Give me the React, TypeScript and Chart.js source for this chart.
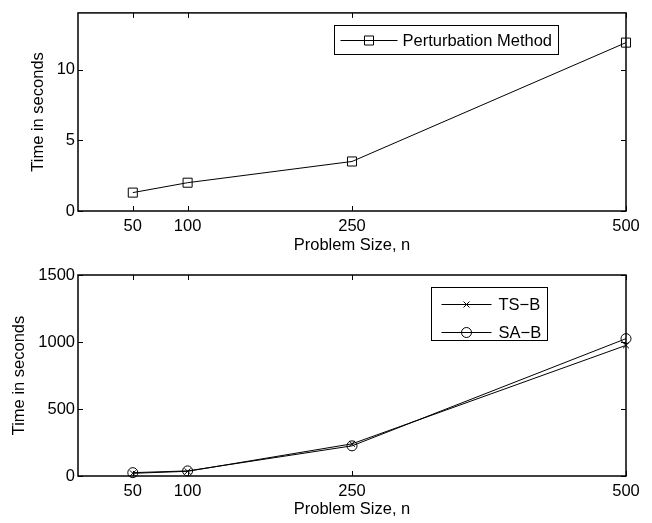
import React, { useEffect, useRef } from 'react';
import { Chart, registerables } from 'chart.js';
Chart.register(...registerables);

// ---- data ----
const problemSizes = [50, 100, 250, 500];
const perturbationTimes = [1.3, 2.0, 3.5, 11.9];
const tsbTimes = [20, 35, 240, 975];
const sabTimes = [25, 38, 225, 1025];
const xTickValues = [50, 100, 250, 500];
const topYTicks = [0, 5, 10];
const bottomYTicks = [0, 500, 1000, 1500];
const topYMax = 14;
const bottomYMax = 1500;
const xMax = 500;
const xLabel = 'Problem Size, n';
const yLabel = 'Time in seconds';
const topSeriesLabel = 'Perturbation Method';
const tsbLabel = 'TS\u2212B';
const sabLabel = 'SA\u2212B';

const FONT = '"Liberation Sans", Arial, Helvetica, sans-serif';
const FS = 16.5;

function drawMarker(ctx: CanvasRenderingContext2D, style: string, x: number, y: number, r: number) {
  ctx.beginPath();
  if (style === 'rect') {
    const s = Math.SQRT1_2 * r;
    ctx.rect(x - s, y - s, 2 * s, 2 * s);
  } else if (style === 'crossRot') {
    const o = Math.SQRT1_2 * r;
    ctx.moveTo(x - o, y - o);
    ctx.lineTo(x + o, y + o);
    ctx.moveTo(x - o, y + o);
    ctx.lineTo(x + o, y - o);
  } else {
    ctx.arc(x, y, r, 0, Math.PI * 2);
  }
  ctx.stroke();
}

const framePlugin = {
  id: 'matlabFrame',
  afterDraw(chart: any, _args: any, opts: any) {
    const { ctx, chartArea: a, scales } = chart;
    ctx.save();
    ctx.strokeStyle = '#000';
    ctx.lineWidth = 1.5;
    ctx.strokeRect(a.left, a.top, a.right - a.left, a.bottom - a.top);
    ctx.lineWidth = 1;
    const tl = 5;
    scales.x.ticks.forEach((t: any) => {
      const px = Math.round(scales.x.getPixelForValue(t.value)) + 0.5;
      ctx.beginPath();
      ctx.moveTo(px, a.bottom);
      ctx.lineTo(px, a.bottom - tl);
      ctx.moveTo(px, a.top);
      ctx.lineTo(px, a.top + tl);
      ctx.stroke();
    });
    scales.y.ticks.forEach((t: any) => {
      const py = Math.round(scales.y.getPixelForValue(t.value)) + 0.5;
      ctx.beginPath();
      ctx.moveTo(a.left, py);
      ctx.lineTo(a.left + tl, py);
      ctx.moveTo(a.right, py);
      ctx.lineTo(a.right - tl, py);
      ctx.stroke();
    });

    // legend
    const L = opts.legend;
    if (L) {
      const bx = Math.round(a.right - L.boxRight - L.boxWidth) + 0.5;
      const by = Math.round(a.top + L.boxTop) + 0.5;
      ctx.fillStyle = '#fff';
      ctx.fillRect(bx, by, L.boxWidth, L.boxHeight);
      ctx.lineWidth = 1;
      ctx.strokeRect(bx, by, L.boxWidth, L.boxHeight);
      ctx.font = `${FS}px ${FONT}`;
      ctx.textBaseline = 'middle';
      ctx.textAlign = 'left';
      chart.data.datasets.forEach((ds: any, i: number) => {
        const ry = Math.round(by + L.firstRow + i * L.rowGap) + 0.5;
        ctx.strokeStyle = '#000';
        ctx.lineWidth = 1;
        ctx.beginPath();
        ctx.moveTo(bx + L.lineStart, ry);
        ctx.lineTo(bx + L.lineStart + L.lineLen, ry);
        ctx.stroke();
        drawMarker(ctx, ds.pointStyle, bx + L.lineStart + L.lineLen / 2, ry, ds.pointRadius);
        ctx.fillStyle = '#000';
        ctx.fillText(ds.label, bx + L.textStart, ry + 0.5);
      });
    }
    ctx.restore();
  },
};

function makeConfig(p: {
  datasets: any[];
  yMax: number;
  yTicks: number[];
  padTop: number;
  xAxisHeight: number;
  xTitlePad: number;
  yTitlePad: number;
  legend: any;
}) {
  const tickFont = { family: FONT, size: FS };
  return {
    type: 'line',
    data: { datasets: p.datasets },
    plugins: [framePlugin],
    options: {
      animation: false,
      responsive: false,
      layout: { padding: { left: 0, right: 26, top: p.padTop, bottom: 0 } },
      plugins: {
        legend: { display: false },
        tooltip: { enabled: false },
        matlabFrame: { legend: p.legend },
      },
      scales: {
        x: {
          type: 'linear',
          min: 0,
          max: xMax,
          afterBuildTicks: (axis: any) => {
            axis.ticks = xTickValues.map((v) => ({ value: v }));
          },
          afterFit: (axis: any) => {
            axis.height = p.xAxisHeight;
          },
          grid: { display: false, drawTicks: false },
          border: { display: false },
          ticks: { font: tickFont, color: '#000', padding: 6, maxRotation: 0, callback: (v: any) => String(v) },
          title: {
            display: true,
            text: xLabel,
            font: tickFont,
            color: '#000',
            padding: { top: 0, bottom: p.xTitlePad },
          },
        },
        y: {
          type: 'linear',
          min: 0,
          max: p.yMax,
          afterBuildTicks: (axis: any) => {
            axis.ticks = p.yTicks.map((v) => ({ value: v }));
          },
          afterFit: (axis: any) => {
            axis.width = 78;
          },
          grid: { display: false, drawTicks: false },
          border: { display: false },
          ticks: { font: tickFont, color: '#000', padding: 3, callback: (v: any) => String(v) },
          title: {
            display: true,
            text: yLabel,
            font: tickFont,
            color: '#000',
            padding: { top: p.yTitlePad, bottom: 0 },
          },
        },
      },
    },
  };
}

function series(label: string, ys: number[], pointStyle: string, pointRadius: number) {
  return {
    label,
    data: problemSizes.map((x, i) => ({ x, y: ys[i] })),
    borderColor: '#000',
    borderWidth: 1,
    pointStyle,
    pointRadius,
    pointBorderWidth: 1,
    pointBorderColor: '#000',
    pointBackgroundColor: 'rgba(0,0,0,0)',
    tension: 0,
    fill: false,
    clip: false,
  };
}

export default function App() {
  const topRef = useRef<HTMLCanvasElement>(null);
  const botRef = useRef<HTMLCanvasElement>(null);

  useEffect(() => {
    const top = new Chart(
      topRef.current as HTMLCanvasElement,
      makeConfig({
        datasets: [series(topSeriesLabel, perturbationTimes, 'rect', 6.4)],
        yMax: topYMax,
        yTicks: topYTicks,
        padTop: 10,
        xAxisHeight: 51,
        xTitlePad: 7,
        yTitlePad: 29,
        legend: {
          boxRight: 68, boxTop: 12, boxWidth: 224, boxHeight: 29,
          firstRow: 14.5, rowGap: 0, lineStart: 6, lineLen: 57, textStart: 68,
        },
      }) as any
    );
    const bot = new Chart(
      botRef.current as HTMLCanvasElement,
      makeConfig({
        datasets: [
          series(tsbLabel, tsbTimes, 'crossRot', 4.2),
          series(sabLabel, sabTimes, 'circle', 5),
        ],
        yMax: bottomYMax,
        yTicks: bottomYTicks,
        padTop: 13,
        xAxisHeight: 47,
        xTitlePad: 3.5,
        yTitlePad: 10,
        legend: {
          boxRight: 79, boxTop: 12, boxWidth: 116, boxHeight: 53,
          firstRow: 16.3, rowGap: 28.4, lineStart: 10, lineLen: 50, textStart: 67,
        },
      }) as any
    );
    return () => {
      top.destroy();
      bot.destroy();
    };
  }, []);

  return (
    <div style={{ position: 'absolute', left: 0, top: 0, width: 652, height: 523, background: '#fff' }}>
      <canvas ref={topRef} width={652} height={262} style={{ display: 'block', width: 652, height: 262 }} />
      <canvas ref={botRef} width={652} height={261} style={{ display: 'block', width: 652, height: 261 }} />
    </div>
  );
}
